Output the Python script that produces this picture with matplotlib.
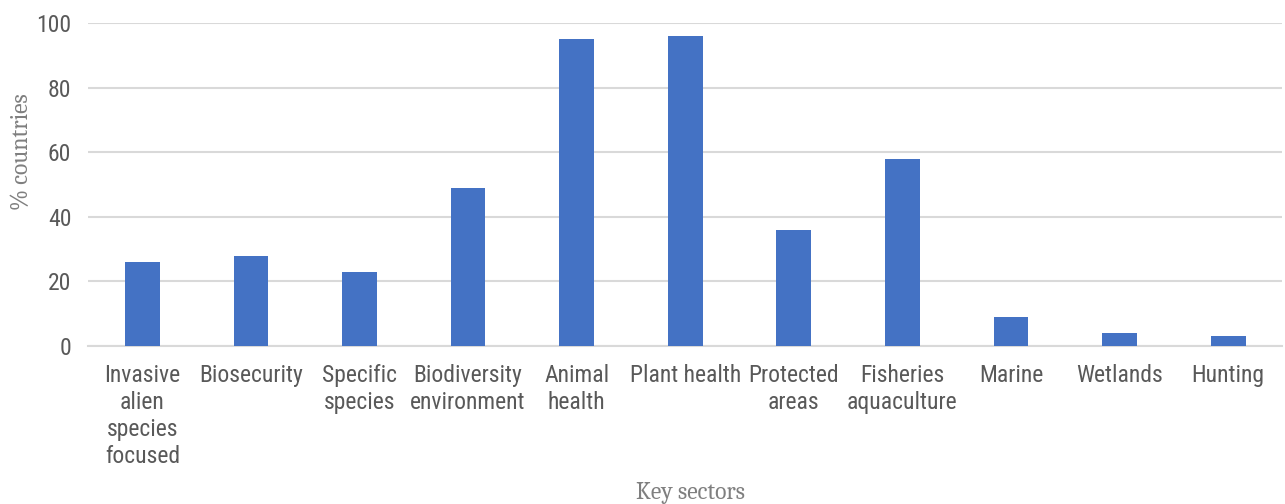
import matplotlib
matplotlib.use("Agg")
import matplotlib.pyplot as plt
import numpy as np
from matplotlib import font_manager

# data
sectors = ["Invasive\nalien\nspecies\nfocused", "Biosecurity", "Specific\nspecies",
           "Biodiversity\nenvironment", "Animal\nhealth", "Plant health", "Protected\nareas",
           "Fisheries\naquaculture", "Marine", "Wetlands", "Hunting"]
pct_countries = [26, 28, 23, 49, 95, 96, 36, 58, 9, 4, 3]
y_ticks = [0, 20, 40, 60, 80, 100]

names = {f.name for f in font_manager.fontManager.ttflist}

def pick(options, default):
    for o in options:
        if o in names:
            return o
    return default

tick_font = pick(["Roboto Condensed", "Archivo Narrow", "PT Sans Narrow",
                  "Liberation Sans Narrow"], None)
tick_size = 17
if tick_font is None:
    tick_font, tick_size = "Roboto", 14.5
serif_font = pick(["Caladea", "Liberation Serif"], "DejaVu Serif")

fig = plt.figure(figsize=(12.85, 5.04), dpi=100)
ax = fig.add_axes([0.0685, 0.3135, 0.9295, 0.6405])

x = np.arange(len(sectors))
ax.bar(x, pct_countries, width=0.32, color="#4472c4", zorder=3)

ax.set_xlim(-0.5, len(sectors) - 0.5)
ax.set_ylim(0, 100)
ax.set_yticks(y_ticks)
ax.set_xticks(x)
ax.set_xticklabels(sectors, linespacing=1.22)
ax.yaxis.grid(True, color="#d9d9d9", linewidth=1.5, zorder=0)
ax.tick_params(axis="both", length=0, labelsize=tick_size, labelcolor="#595959")
ax.tick_params(axis="x", pad=13)
ax.tick_params(axis="y", pad=12)
for lab in ax.get_xticklabels() + ax.get_yticklabels():
    lab.set_family(tick_font)

for s in ["top", "right", "left"]:
    ax.spines[s].set_visible(False)
ax.spines["bottom"].set_color("#d9d9d9")
ax.spines["bottom"].set_linewidth(1.5)

fig.text(0.0165, 0.70, "% countries", family=serif_font, fontsize=17, color="#7f7f7f",
         rotation=90, ha="center", va="center")
fig.text(0.537, 0.022, "Key sectors", family=serif_font, fontsize=17, color="#7f7f7f",
         ha="center", va="center")

fig.savefig("out.png", dpi=100)
